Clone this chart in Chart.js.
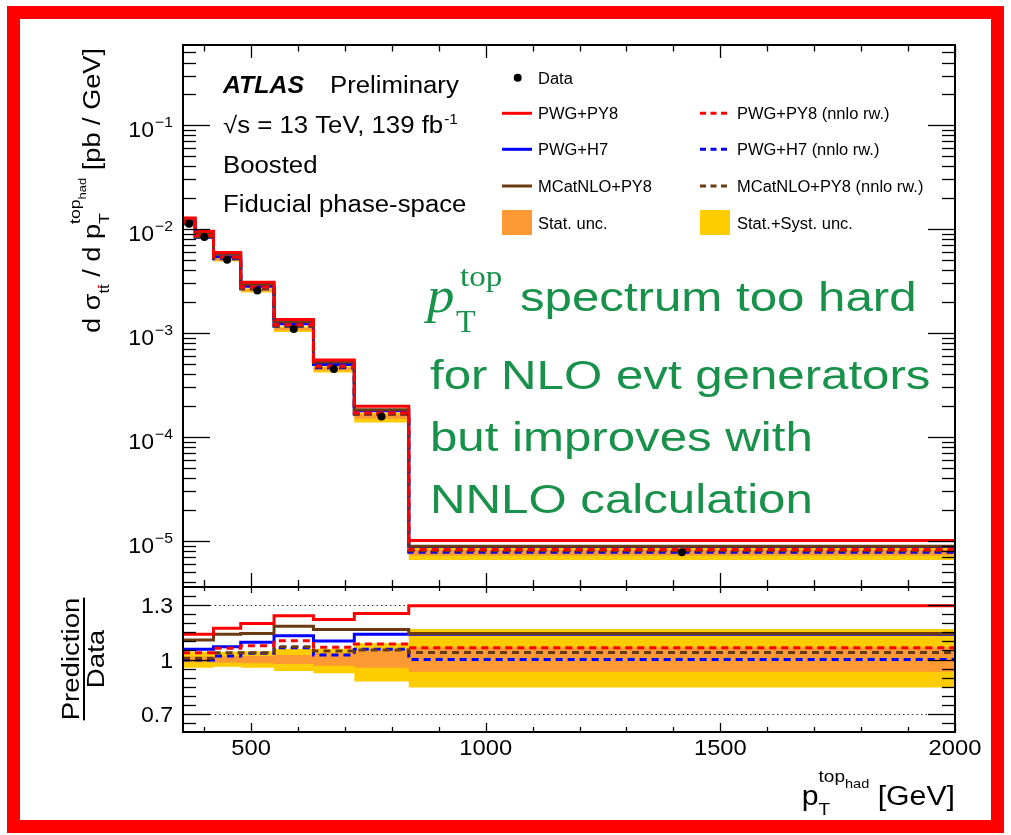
<!DOCTYPE html>
<html>
<head>
<meta charset="utf-8">
<script src="https://cdn.jsdelivr.net/npm/chart.js@4.4.1/dist/chart.umd.min.js"></script>
<style>
html, body { margin: 0; padding: 0; background: #fff; }
#wrap { position: relative; width: 1011px; height: 835px; }
#wrap canvas { position: absolute; left: 0; top: 0; }
</style>
</head>
<body>
<div id="wrap">
<canvas id="spectrum" width="1011" height="835"></canvas>
<canvas id="ratio" width="1011" height="835"></canvas>
</div>
<script>
'use strict';

// bins of the hadronic top pT [GeV]
const binEdges = [355, 381, 420, 478, 549, 633, 720, 836, 2000];
const xTickLabels = [500, 1000, 1500, 2000];
const yDecades = [-1, -2, -3, -4, -5];
const ratioTickLabels = [1.3, 1, 0.7];

// measured cross-section [pb/GeV]
const dataXsec = [1.125e-2, 8.38e-3, 5.07e-3, 2.57e-3, 1.09e-3, 4.51e-4, 1.57e-4, 7.76e-6];
// relative uncertainties
const statUnc  = [0.015, 0.015, 0.018, 0.02, 0.025, 0.035, 0.045, 0.067];
const totUncUp = [0.043, 0.043, 0.043, 0.046, 0.06, 0.06, 0.089, 0.168];
const totUncDn = [0.045, 0.045, 0.04, 0.045, 0.063, 0.076, 0.122, 0.154];

// predictions [pb/GeV]
const pwgPy8       = [1.28e-2, 9.55e-3, 5.94e-3, 3.08e-3, 1.35e-3, 5.51e-4, 1.97e-4, 1.01e-5];
const pwgH7        = [1.188e-2, 8.85e-3, 5.42e-3, 2.81e-3, 1.23e-3, 4.97e-4, 1.79e-4, 8.85e-6];
const mcnloPy8     = [1.245e-2, 9.28e-3, 5.77e-3, 2.94e-3, 1.29e-3, 5.26e-4, 1.83e-4, 8.88e-6];
const pwgPy8Nnlo   = [1.167e-2, 8.69e-3, 5.38e-3, 2.77e-3, 1.20e-3, 4.81e-4, 1.70e-4, 8.26e-6];
const pwgH7Nnlo    = [1.122e-2, 8.35e-3, 5.17e-3, 2.66e-3, 1.16e-3, 4.62e-4, 1.66e-4, 7.76e-6];
const mcnloPy8Nnlo = [1.133e-2, 8.44e-3, 5.26e-3, 2.67e-3, 1.17e-3, 4.72e-4, 1.65e-4, 8.05e-6];

// prediction / data
const ratioPwgPy8       = [1.14, 1.14, 1.172, 1.199, 1.241, 1.221, 1.254, 1.296];
const ratioPwgH7        = [1.056, 1.056, 1.07, 1.095, 1.131, 1.102, 1.14, 1.14];
const ratioMcnloPy8     = [1.107, 1.107, 1.139, 1.144, 1.184, 1.166, 1.166, 1.144];
const ratioPwgPy8Nnlo   = [1.037, 1.037, 1.062, 1.076, 1.104, 1.067, 1.085, 1.065];
const ratioPwgH7Nnlo    = [0.997, 0.997, 1.019, 1.034, 1.065, 1.025, 1.056, 1.0];
const ratioMcnloPy8Nnlo = [1.007, 1.007, 1.037, 1.037, 1.07, 1.047, 1.052, 1.038];

const RED = '#ff0000', BLUE = '#0000ff', BROWN = '#6c3a12';
const STAT = '#ff9933', TOTAL = '#ffcc00', GREEN = '#18914a';
const DASH = [7, 5];
const SANS = '"Liberation Sans", Arial, sans-serif';
const SERIF = '"Liberation Serif", "Times New Roman", serif';
const SX = 1.1;

function histPoints(vals) {
	const pts = vals.map((v, i) => ({x: binEdges[i], y: v}));
	pts.push({x: binEdges[binEdges.length - 1], y: vals[vals.length - 1]});
	return pts;
}

// chart.js 'before' = horizontal first, then vertical at the next edge
function lineDs(label, vals, color, dashed, order) {
	return {
		label: label, data: histPoints(vals), borderColor: color, borderWidth: 3,
		borderDash: dashed ? DASH : [], stepped: 'before', pointRadius: 0, fill: false, order: order
	};
}

// two datasets: upper edge (invisible) + lower edge filled up to it
function bandDs(up, dn, color, order) {
	return [
		{data: histPoints(up), borderColor: 'rgba(0,0,0,0)', borderWidth: 0, pointRadius: 0, stepped: 'before', fill: false, order: order},
		{data: histPoints(dn), borderColor: 'rgba(0,0,0,0)', borderWidth: 0, pointRadius: 0, stepped: 'before', fill: '-1', backgroundColor: color, order: order}
	];
}

function txt(ctx, s, x, y, size, o) {
	o = o || {};
	ctx.save();
	ctx.font = (o.style || '') + ' ' + (o.weight || '') + ' ' + size + 'px ' + (o.font || SANS);
	const sx = o.sx || SX;
	const w = ctx.measureText(s).width * sx;
	let x0 = x;
	if (o.align === 'right') x0 = x - w;
	else if (o.align === 'center') x0 = x - w / 2;
	if (!o.measure) {
		ctx.fillStyle = o.color || '#000';
		ctx.translate(x0, y);
		ctx.scale(sx, 1);
		ctx.textAlign = 'left';
		ctx.textBaseline = 'alphabetic';
		ctx.fillText(s, 0, 0);
	}
	ctx.restore();
	return w;
}

// text with sub/superscripts
function runs(ctx, parts, x, y, measure) {
	let cx = x;
	parts.forEach(p => {
		const w = txt(ctx, p.t, cx, y + (p.dy || 0), p.size, Object.assign({}, p, {measure: measure, align: 'left'}));
		if (p.bar && !measure) {
			const by = y + (p.dy || 0) - p.size * 0.8;
			ctx.fillRect(cx + 1, by, w - 2, 1.2);
		}
		if (p.adv !== false) cx += w;
	});
	return cx - x;
}

function tick(ctx, x1, y1, x2, y2) {
	ctx.beginPath(); ctx.moveTo(x1, y1); ctx.lineTo(x2, y2); ctx.stroke();
}

function xTicks(ctx, x, a, upLen, downLen) {
	for (let v = 400; v <= 2000; v += 100) {
		const px = Math.round(x.getPixelForValue(v)) + 0.5;
		const major = v % 500 === 0;
		tick(ctx, px, a.bottom, px, a.bottom - (major ? upLen[0] : upLen[1]));
		tick(ctx, px, a.top, px, a.top + (major ? downLen[0] : downLen[1]));
	}
}

const spectrumDecor = {
	id: 'spectrumDecor',
	afterDraw(chart) {
		const ctx = chart.ctx, a = chart.chartArea, x = chart.scales.x, y = chart.scales.y;
		ctx.save();
		// red outer frame
		ctx.fillStyle = '#ff0000';
		ctx.fillRect(7, 6, 997, 13);
		ctx.fillRect(7, 820, 997, 13);
		ctx.fillRect(7, 6, 13, 827);
		ctx.fillRect(991, 6, 13, 827);

		ctx.strokeStyle = '#000';
		ctx.lineWidth = 1.3;
		xTicks(ctx, x, a, [14, 7], [13, 6.5]);
		for (let d = -6; d <= 0; d++) {
			for (let m = 1; m <= 9; m++) {
				const v = m * Math.pow(10, d);
				if (v <= y.min || v >= y.max) continue;
				const py = Math.round(y.getPixelForValue(v)) + 0.5;
				const len = m === 1 ? 27 : 13;
				tick(ctx, a.left, py, a.left + len, py);
				tick(ctx, a.right, py, a.right - len, py);
			}
		}
		ctx.lineWidth = 2;
		ctx.strokeRect(a.left, a.top, a.right - a.left, a.bottom - a.top);

		// y tick labels 10^n
		yDecades.forEach(d => {
			const py = y.getPixelForValue(Math.pow(10, d));
			const we = txt(ctx, '\u2212' + Math.abs(d), 173, py + 2, 15, {align: 'right', sx: 1.05});
			txt(ctx, '10', 173 - we - 1, py + 12, 22, {align: 'right', sx: 1.05});
		});

		// y title
		const yTitle = [
			{t: 'd \u03c3', size: 23}, {t: 't', size: 14, dy: 9}, {t: 't', size: 14, dy: 9, bar: true},
			{t: ' / d p', size: 23}, {t: 'T', size: 15, dy: 9, adv: false},
			{t: 'top', size: 15, dy: -20}, {t: 'had', size: 11, dy: -14}, {t: ' [pb / GeV]', size: 23}
		];
		yTitle.forEach(p => { p.sx = 1.18; });
		const L = runs(ctx, yTitle, 0, 0, true);
		ctx.save();
		ctx.translate(100, 48 + L);
		ctx.rotate(-Math.PI / 2);
		runs(ctx, yTitle, 0, 0, false);
		ctx.restore();

		// ATLAS label
		txt(ctx, 'ATLAS', 223, 93, 23, {weight: 'bold', style: 'italic', sx: 1.08});
		txt(ctx, 'Preliminary', 330, 93, 23, {sx: 1.12});
		const w2 = txt(ctx, '\u221as = 13 TeV, 139 fb', 223, 133, 23, {sx: 1.12});
		txt(ctx, '-1', 223 + w2 + 1, 124, 14);
		txt(ctx, 'Boosted', 223, 173, 23, {sx: 1.12});
		txt(ctx, 'Fiducial phase-space', 223, 212, 23, {sx: 1.12});

		// legend
		const rows = [77.7, 113.3, 149.3, 186, 222.7];
		ctx.fillStyle = '#000';
		ctx.beginPath(); ctx.arc(517.7, rows[0], 4, 0, 2 * Math.PI); ctx.fill();
		txt(ctx, 'Data', 538, rows[0] + 6, 16, {sx: 1.03});
		const entries = [
			['PWG+PY8', RED, 1], ['PWG+H7', BLUE, 2], ['MCatNLO+PY8', BROWN, 3]
		];
		ctx.lineWidth = 3;
		entries.forEach(e => {
			const ry = rows[e[2]];
			ctx.strokeStyle = e[1];
			ctx.setLineDash([]);
			tick(ctx, 502, ry, 532, ry);
			txt(ctx, e[0], 538, ry + 6, 16, {sx: 1.03});
			ctx.setLineDash([6, 4.5]);
			tick(ctx, 700, ry, 727, ry);
			txt(ctx, e[0] + ' (nnlo rw.)', 737, ry + 6, 16, {sx: 1.03});
		});
		ctx.setLineDash([]);
		ctx.fillStyle = STAT;
		ctx.fillRect(502, 210, 30, 25);
		ctx.fillStyle = TOTAL;
		ctx.fillRect(700, 210, 30, 25);
		txt(ctx, 'Stat. unc.', 538, rows[4] + 6, 16, {sx: 1.03});
		txt(ctx, 'Stat.+Syst. unc.', 737, rows[4] + 6, 16, {sx: 1.03});

		// annotation
		txt(ctx, 'p', 427, 312, 50, {font: SERIF, style: 'italic', color: GREEN, sx: 1.1});
		txt(ctx, 'top', 460, 286, 30, {font: SERIF, color: GREEN, sx: 1.1});
		txt(ctx, 'T', 456, 332, 32, {font: SERIF, color: GREEN, sx: 1.0});
		txt(ctx, 'spectrum too hard', 520, 311, 41, {color: GREEN, sx: 1.2});
		txt(ctx, 'for NLO evt generators', 430, 389, 41, {color: GREEN, sx: 1.2});
		txt(ctx, 'but improves with', 430, 451, 41, {color: GREEN, sx: 1.2});
		txt(ctx, 'NNLO calculation', 430, 513, 41, {color: GREEN, sx: 1.2});
		ctx.restore();
	}
};

const ratioDecor = {
	id: 'ratioDecor',
	beforeDatasetsDraw(chart) {
		const ctx = chart.ctx, a = chart.chartArea, y = chart.scales.y;
		ctx.save();
		ctx.strokeStyle = '#333';
		ctx.lineWidth = 1.2;
		ctx.setLineDash([1.5, 3]);
		[1.3, 0.7].forEach(v => {
			const py = Math.round(y.getPixelForValue(v)) + 0.5;
			tick(ctx, a.left, py, a.right, py);
		});
		ctx.restore();
	},
	afterDraw(chart) {
		const ctx = chart.ctx, a = chart.chartArea, x = chart.scales.x, y = chart.scales.y;
		ctx.save();
		ctx.strokeStyle = '#000';
		ctx.lineWidth = 1.3;
		xTicks(ctx, x, a, [9, 5], [6, 4]);
		for (let i = 1; i < 16; i++) {
			const v = 0.6 + i * 0.05;
			const py = Math.round(y.getPixelForValue(v)) + 0.5;
			const major = i === 2 || i === 8 || i === 14;
			const len = major ? 27 : 13;
			tick(ctx, a.left, py, a.left + len, py);
			tick(ctx, a.right, py, a.right - len, py);
		}
		ctx.lineWidth = 2;
		ctx.strokeRect(a.left, a.top, a.right - a.left, a.bottom - a.top);

		ratioTickLabels.forEach(v => {
			txt(ctx, String(v), 173, y.getPixelForValue(v) + 8, 22, {align: 'right', sx: 1.05});
		});
		xTickLabels.forEach(v => {
			txt(ctx, String(v), x.getPixelForValue(v), 755, 22, {align: 'center', sx: 1.08});
		});

		// x title
		const xTitle = [
			{t: 'p', size: 27}, {t: 'T', size: 17, dy: 10, adv: false},
			{t: 'top', size: 17, dy: -23}, {t: 'had', size: 13, dy: -17}, {t: ' [GeV]', size: 27}
		];
		xTitle.forEach(p => { p.sx = 1.12; });
		const L = runs(ctx, xTitle, 0, 0, true);
		runs(ctx, xTitle, 955 - L, 805, false);

		// ratio y title
		ctx.save();
		ctx.translate(84, 659);
		ctx.rotate(-Math.PI / 2);
		const wp = txt(ctx, 'Prediction', 0, -5, 23, {align: 'center', sx: 1.2});
		txt(ctx, 'Data', 0, 20, 23, {align: 'center', sx: 1.2});
		ctx.fillStyle = '#000';
		ctx.fillRect(-wp / 2, -1, wp, 2);
		ctx.restore();
		ctx.restore();
	}
};

const binCenters = binEdges.slice(0, -1).map((e, i) => (e + binEdges[i + 1]) / 2);

const commonOptions = (padding, yScale) => ({
	responsive: false,
	animation: false,
	devicePixelRatio: 1,
	events: [],
	layout: {padding: padding},
	plugins: {legend: {display: false}, tooltip: {enabled: false}},
	scales: {
		x: {type: 'linear', display: false, bounds: 'data', min: binEdges[0], max: binEdges[binEdges.length - 1]},
		y: yScale
	}
});

new Chart(document.getElementById('spectrum'), {
	type: 'line',
	data: {
		datasets: [
			{label: 'Data', data: binCenters.map((c, i) => ({x: c, y: dataXsec[i]})), showLine: false,
			 pointRadius: 4, pointBackgroundColor: '#000', pointBorderWidth: 0, order: 0},
			lineDs('PWG+PY8 (nnlo rw.)', pwgPy8Nnlo, RED, true, 1),
			lineDs('MCatNLO+PY8 (nnlo rw.)', mcnloPy8Nnlo, BROWN, true, 2),
			lineDs('PWG+H7 (nnlo rw.)', pwgH7Nnlo, BLUE, true, 3),
			lineDs('PWG+PY8', pwgPy8, RED, false, 4),
			lineDs('MCatNLO+PY8', mcnloPy8, BROWN, false, 5),
			lineDs('PWG+H7', pwgH7, BLUE, false, 6),
			...bandDs(dataXsec.map((v, i) => v * (1 + statUnc[i])), dataXsec.map((v, i) => v * (1 - statUnc[i])), STAT, 15),
			...bandDs(dataXsec.map((v, i) => v * (1 + totUncUp[i])), dataXsec.map((v, i) => v * (1 - totUncDn[i])), TOTAL, 20)
		]
	},
	options: commonOptions({left: 183, top: 45, right: 56, bottom: 248},
		{type: 'logarithmic', display: false, bounds: 'data', min: 3.6e-6, max: 0.59}),
	plugins: [spectrumDecor]
});

new Chart(document.getElementById('ratio'), {
	type: 'line',
	data: {
		datasets: [
			lineDs('PWG+PY8 (nnlo rw.)', ratioPwgPy8Nnlo, RED, true, 1),
			lineDs('MCatNLO+PY8 (nnlo rw.)', ratioMcnloPy8Nnlo, BROWN, true, 2),
			lineDs('PWG+H7 (nnlo rw.)', ratioPwgH7Nnlo, BLUE, true, 3),
			lineDs('PWG+PY8', ratioPwgPy8, RED, false, 4),
			lineDs('MCatNLO+PY8', ratioMcnloPy8, BROWN, false, 5),
			lineDs('PWG+H7', ratioPwgH7, BLUE, false, 6),
			...bandDs(statUnc.map(u => 1 + u), statUnc.map(u => 1 - u), STAT, 15),
			...bandDs(totUncUp.map(u => 1 + u), totUncDn.map(u => 1 - u), TOTAL, 20)
		]
	},
	options: commonOptions({left: 183, top: 587, right: 56, bottom: 103},
		{type: 'linear', display: false, bounds: 'data', min: 0.6, max: 1.4}),
	plugins: [ratioDecor]
});
</script>
</body>
</html>
